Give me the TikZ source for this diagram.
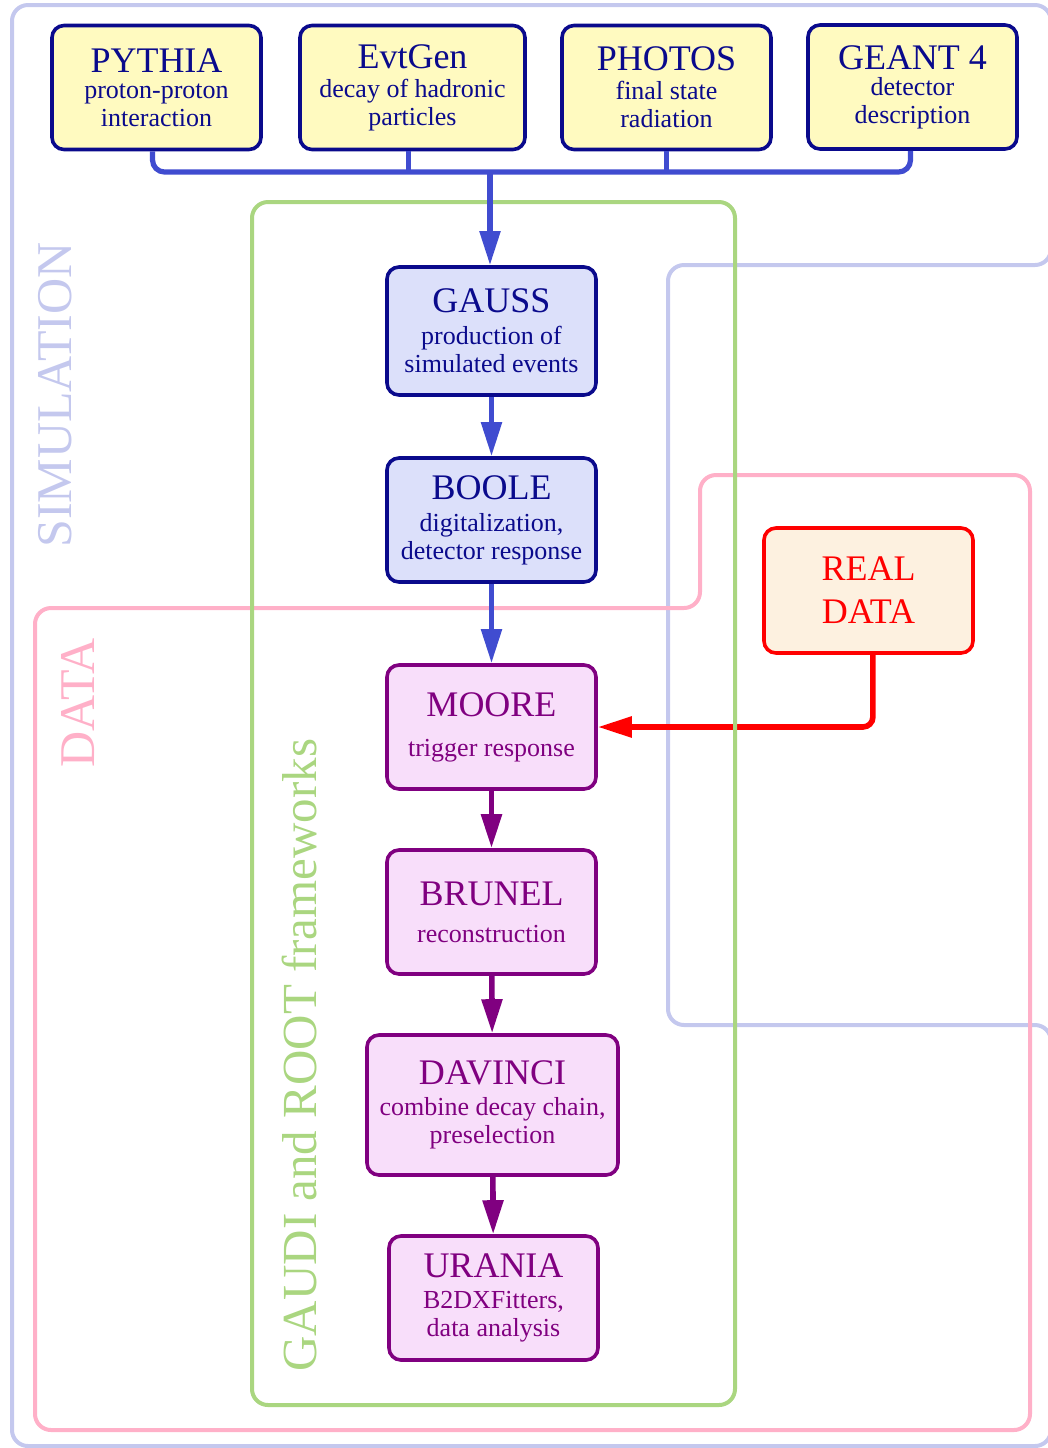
\documentclass[tikz,border=0pt]{standalone}
\usepackage{fontspec}
\setmainfont{Liberation Serif}
\usetikzlibrary{arrows.meta}
\definecolor{navy}{RGB}{10,10,140}
\definecolor{yelfill}{RGB}{255,250,192}
\definecolor{lavfill}{RGB}{220,224,250}
\definecolor{pinkfill}{RGB}{248,222,250}
\definecolor{realfill}{RGB}{253,241,224}
\definecolor{purp}{RGB}{128,0,128}
\definecolor{blarrow}{RGB}{64,76,208}
\definecolor{simcol}{RGB}{196,200,238}
\definecolor{datcol}{RGB}{255,176,200}
\definecolor{gaudicol}{RGB}{170,214,128}
\definecolor{realred}{RGB}{255,0,0}
\tikzset{
  box/.style={draw, rounded corners=6pt, line width=1.8pt, align=center, inner sep=0pt,
    minimum width=104.5pt, minimum height=62pt, font=\fontsize{13}{14}\selectfont},
  genbox/.style={box, draw=navy, text=navy, fill=yelfill},
  simbox/.style={box, draw=navy, text=navy, fill=lavfill},
  datbox/.style={box, draw=purp, text=purp, fill=pinkfill},
  realbox/.style={box, draw=realred, text=realred, fill=realfill},
  bluearr/.style={draw=blarrow, line width=2.6pt, -{Triangle[length=17pt,width=10pt]}},
  purparr/.style={draw=purp, line width=2.8pt, -{Triangle[length=17pt,width=10pt]}},
  redarr/.style={draw=realred, line width=2.8pt, rounded corners=5pt, -{Triangle[length=17pt,width=10pt]}},
  busline/.style={draw=blarrow, line width=2.6pt, rounded corners=6pt},
  region/.style={line width=2pt, rounded corners=8pt},
  regionlabel/.style={rotate=90, font=\fontsize{25}{25}\selectfont}
}
\newcommand{\ttl}[1]{{\fontsize{18}{18}\selectfont #1}}
\begin{document}
\begin{tikzpicture}[x=0.5pt,y=-0.5pt]
\useasboundingbox (0,0) rectangle (1048,1448);
% regions
\draw[region, draw=simcol] (12,5) -- (1051,5) -- (1051,265) -- (668,265) -- (668,1025) -- (1051,1025) -- (1051,1446) -- (12,1446) -- cycle;
\draw[region, draw=datcol] (35,608) -- (700,608) -- (700,475) -- (1030,475) -- (1030,1430) -- (35,1430) -- cycle;
\node[regionlabel, text=simcol] (simlabel) at (55,395) {SIMULATION};
\node[regionlabel, text=datcol] (datlabel) at (78,703) {DATA};
% real data and red arrow (below green frame)
\node[realbox, minimum height=62.5pt] (real) at (868.5,590.5) {\ttl{REAL}\\[7.5pt]\ttl{DATA}};
\node[datbox] (moore) at (491.5,727) {\ttl{MOORE}\\[6pt]trigger response};
\draw[redarr] ([xshift=2.2pt]real.south) |- (moore.east);
% green frame
\draw[region, draw=gaudicol] (252,202) rectangle (735,1405);
\node[regionlabel, text=gaudicol, font=\fontsize{24.5}{25}\selectfont] (gaudilabel) at (299,1055) {GAUDI and ROOT frameworks};
% generator boxes
\node[genbox] (pythia) at (156.5,87.5) {\ttl{PYTHIA}\\[-1pt]proton-proton\\interaction};
\node[genbox, minimum width=112.5pt] (evtgen) at (412.5,87.5) {\ttl{EvtGen}\\[0.5pt]decay of hadronic\\particles};
\node[genbox] (photos) at (666.5,87.5) {\ttl{PHOTOS}\\[0.5pt]final state\\radiation};
\node[genbox] (geant) at (912.5,87) {\ttl{GEANT 4}\\[-1pt]detector\\description};
% chain
\node[simbox, minimum height=64pt] (gauss) at (491.5,331) {\ttl{GAUSS}\\[2pt]production of\\simulated events};
\node[simbox] (boole) at (491.5,520) {\ttl{BOOLE}\\[2pt]digitalization,\\detector response};
\node[datbox] (brunel) at (491.5,912) {\ttl{BRUNEL}\\[4.5pt]reconstruction};
\node[datbox, minimum width=125.5pt, minimum height=70pt] (davinci) at (492.5,1105) {\ttl{DAVINCI}\\[1.5pt]combine decay chain,\\preselection};
\node[datbox] (urania) at (493.5,1298) {\ttl{URANIA}\\[1.5pt]B2DXFitters,\\data analysis};
% bus
\coordinate (bus) at (490,172);
\draw[busline] ([xshift=-2pt]pythia.south) |- (bus) -| ([xshift=-1pt]geant.south);
\draw[busline] ([xshift=-2pt]evtgen.south) -- ([xshift=-2pt]evtgen.south |- bus);
\draw[busline] (photos.south) -- (photos.south |- bus);
\draw[bluearr] (bus) -- (gauss.north -| bus);
\draw[bluearr] (gauss) -- (boole);
\draw[bluearr] (boole) -- (moore);
\draw[purparr] (moore) -- (brunel);
\draw[purparr] (brunel) -- (davinci);
\draw[purparr] (davinci) -- (urania);
\end{tikzpicture}
\end{document}
